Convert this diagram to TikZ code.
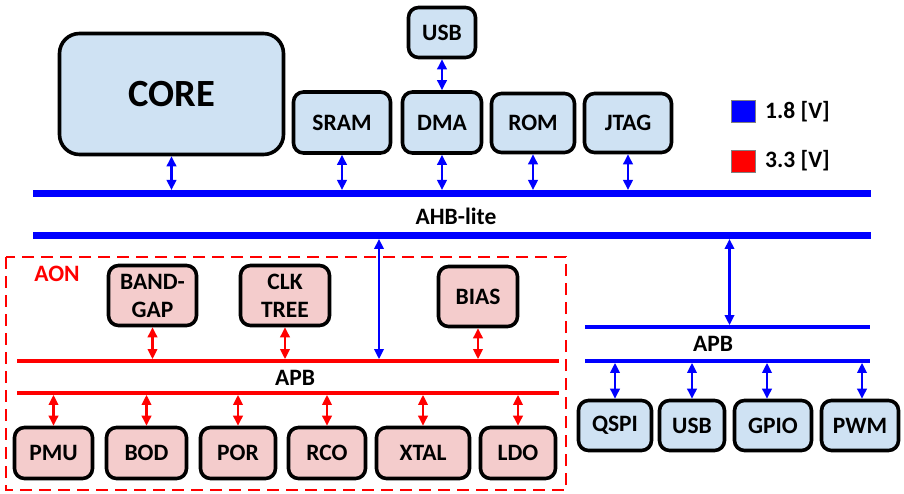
\documentclass[tikz,border=0pt]{standalone}
\usepackage{fontspec}
\setmainfont{Carlito}
\usetikzlibrary{arrows.meta,calc}
\definecolor{boxblue}{RGB}{207,226,243}
\definecolor{boxpink}{RGB}{244,204,204}
\definecolor{pureblue}{RGB}{0,0,255}
\definecolor{purered}{RGB}{255,0,0}
\tikzset{
  lbl/.style={font=\bfseries\fontsize{23.5}{28}\selectfont, align=center},
  bbox/.style={lbl, draw=black, line width=3.6pt, rounded corners=10pt, fill=boxblue, inner sep=0pt},
  pbox/.style={bbox, fill=boxpink},
  bar/.style={inner sep=0pt, outer sep=0pt},
  barb/.style={bar, fill=pureblue},
  barr/.style={bar, fill=purered},
  barrow/.style={line width=2.1pt, {Triangle[length=10pt,width=9.5pt]}-{Triangle[length=10pt,width=9.5pt]}},
  blarr/.style={barrow, draw=pureblue, fill=pureblue},
  rdarr/.style={barrow, draw=purered, fill=purered},
}
\begin{document}
\begin{tikzpicture}[x=1pt,y=-1pt]
\useasboundingbox (0,0) rectangle (904,494);
% top boxes
\node[bbox, rounded corners=20pt, minimum width=224pt, minimum height=121pt, font=\bfseries\fontsize{38.5}{44}\selectfont] (core) at (171.5,94) {CORE};
\node[bbox, minimum width=97pt, minimum height=61pt] (sram) at (342,122.5) {SRAM};
\node[bbox, minimum width=79pt, minimum height=61pt] (dma) at (442,122.5) {DMA};
\node[bbox, minimum width=67pt, minimum height=50pt] (usbt) at (442,32.5) {USB};
\node[bbox, minimum width=83pt, minimum height=59pt] (rom) at (533,123) {ROM};
\node[bbox, minimum width=87pt, minimum height=59pt] (jtag) at (628,123) {JTAG};
% legend
\node[draw=gray, line width=0.8pt, fill=pureblue, minimum width=24pt, minimum height=22pt, inner sep=0pt] (lgb) at (743.5,111.5) {};
\node[draw=gray, line width=0.8pt, fill=purered, minimum width=24pt, minimum height=22pt, inner sep=0pt] (lgr) at (743.5,161) {};
\node[lbl, anchor=west, inner sep=0pt] (lgbt) at (765,112) {1.8 [V]};
\node[lbl, anchor=west, inner sep=0pt] (lgrt) at (765,161) {3.3 [V]};
% AHB bus
\node[barb, minimum width=838pt, minimum height=7pt] (ahbtop) at (452,193.5) {};
\node[barb, minimum width=838pt, minimum height=7pt] (ahbbot) at (452,235.5) {};
\node[lbl] (ahblbl) at (456,216) {AHB-lite};
% top arrows
\draw[blarr] (core.south) -- (core.south |- ahbtop.north);
\draw[blarr] (sram.south) -- (sram.south |- ahbtop.north);
\draw[blarr] (dma.south) -- (dma.south |- ahbtop.north);
\draw[blarr] (rom.south) -- (rom.south |- ahbtop.north);
\draw[blarr] (jtag.south) -- (jtag.south |- ahbtop.north);
\draw[blarr] (usbt.south) -- (dma.north);
% AON region
\draw[purered, line width=2.6pt, dash pattern=on 12pt off 7pt] (6,257) rectangle (566,490);
\node[lbl, text=purered] (aon) at (57,274) {AON};
\node[pbox, minimum width=88pt, minimum height=60pt] (bandgap) at (152.5,295.5) {BAND-\\GAP};
\node[pbox, minimum width=89pt, minimum height=60pt] (clk) at (285,295.5) {CLK\\TREE};
\node[pbox, minimum width=79pt, minimum height=60pt] (bias) at (478,296.5) {BIAS};
\node[barr, minimum width=542pt, minimum height=3.8pt] (apbrtop) at (288,361) {};
\node[barr, minimum width=542pt, minimum height=3.8pt] (apbrbot) at (288,393) {};
\node[lbl] (apbrlbl) at (295,378) {APB};
\draw[rdarr] (bandgap.south) -- (bandgap.south |- apbrtop.north);
\draw[rdarr] (clk.south) -- (clk.south |- apbrtop.north);
\draw[rdarr] (bias.south) -- (bias.south |- apbrtop.north);
\node[pbox, minimum width=78pt, minimum height=51pt] (pmu) at (53.5,453) {PMU};
\node[pbox, minimum width=80pt, minimum height=51pt] (bod) at (146.5,453) {BOD};
\node[pbox, minimum width=75pt, minimum height=51pt] (por) at (238,453) {POR};
\node[pbox, minimum width=77pt, minimum height=51pt] (rco) at (327,453) {RCO};
\node[pbox, minimum width=93pt, minimum height=51pt] (xtal) at (423,453) {XTAL};
\node[pbox, minimum width=75pt, minimum height=51pt] (ldo) at (518,453) {LDO};
\foreach \n in {pmu,bod,por,rco,xtal,ldo}
  \draw[rdarr] (apbrbot.south -| \n.north) -- (\n.north);
\coordinate (aonsrc) at (ahbbot.south -| 379,0);
\draw[blarr] (aonsrc) -- (aonsrc |- apbrtop.north);
% right APB
\node[barb, minimum width=285pt, minimum height=3.8pt] (apbbtop) at (727.5,327) {};
\node[barb, minimum width=285pt, minimum height=3.8pt] (apbbbot) at (727.5,361) {};
\node[lbl] (apbblbl) at (713,344) {APB};
\coordinate (rsrc) at (ahbbot.south -| 729.5,0);
\draw[blarr] (rsrc) -- (rsrc |- apbbtop.north);
\node[bbox, minimum width=73pt, minimum height=50pt] (qspi) at (615,425.5) {QSPI};
\node[bbox, minimum width=65pt, minimum height=50pt] (usbb) at (692,425.5) {USB};
\node[bbox, minimum width=77pt, minimum height=50pt] (gpio) at (773,425.5) {GPIO};
\node[bbox, minimum width=77pt, minimum height=50pt] (pwm) at (860,425.5) {PWM};
\draw[blarr] (apbbbot.south -| qspi.north) -- (qspi.north);
\draw[blarr] (apbbbot.south -| usbb.north) -- (usbb.north);
\coordinate (gx) at (apbbbot.south -| 767,0);
\draw[blarr] (gx) -- (gx |- gpio.north);
\coordinate (px) at (apbbbot.south -| 862,0);
\draw[blarr] (px) -- (px |- pwm.north);
\end{tikzpicture}
\end{document}
